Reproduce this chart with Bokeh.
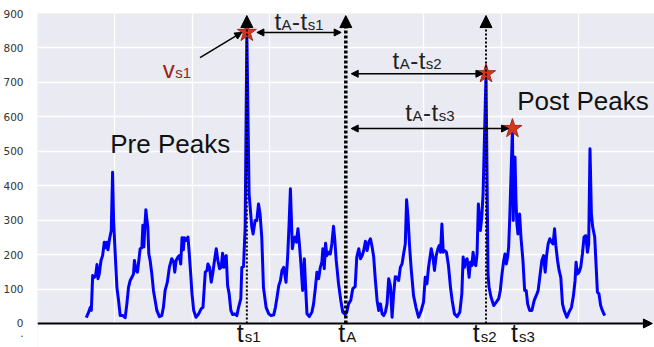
from bokeh.plotting import figure
from bokeh.models import Range1d, SingleIntervalTicker, FixedTicker, Arrow, NormalHead, Label, BoxAnnotation
from bokeh.embed import file_html
from bokeh.resources import INLINE

# ---------------- data ----------------
time = [0.632, 0.662, 0.684, 0.697, 0.714, 0.735, 0.752, 0.770, 0.783, 0.800, 0.822, 0.843, 0.865, 0.881, 0.899,
        0.912, 0.933, 0.955, 0.972, 0.985, 1.006, 1.028, 1.049, 1.071, 1.106, 1.135, 1.157, 1.178, 1.200, 1.222,
        1.243, 1.255, 1.274, 1.294, 1.312, 1.329, 1.351, 1.364, 1.377, 1.390, 1.403, 1.415, 1.428, 1.441, 1.458,
        1.480, 1.501, 1.523, 1.545, 1.578, 1.609, 1.630, 1.652, 1.681, 1.707, 1.738, 1.764, 1.777, 1.794, 1.819,
        1.836, 1.854, 1.871, 1.888, 1.901, 1.923, 1.948, 1.965, 1.983, 2.000, 2.022, 2.052, 2.086, 2.120, 2.142,
        2.159, 2.172, 2.194, 2.206, 2.228, 2.249, 2.271, 2.288, 2.314, 2.335, 2.357, 2.378, 2.396, 2.413, 2.430,
        2.443, 2.461, 2.481, 2.503, 2.525, 2.551, 2.581, 2.603, 2.632, 2.645, 2.667, 2.688, 2.710, 2.739, 2.774,
        2.791, 2.817, 2.839, 2.861, 2.881, 2.903, 2.925, 2.959, 2.994, 3.023, 3.058, 3.080, 3.101, 3.123, 3.145,
        3.165, 3.187, 3.200, 3.217, 3.239, 3.255, 3.274, 3.286, 3.299, 3.316, 3.333, 3.351, 3.372, 3.390, 3.410,
        3.432, 3.454, 3.471, 3.488, 3.519, 3.552, 3.574, 3.596, 3.617, 3.639, 3.661, 3.681, 3.694, 3.712, 3.729,
        3.746, 3.768, 3.790, 3.810, 3.832, 3.849, 3.867, 3.897, 3.926, 3.952, 3.983, 4.004, 4.026, 4.055, 4.081,
        4.112, 4.133, 4.159, 4.181, 4.203, 4.223, 4.245, 4.267, 4.288, 4.310, 4.332, 4.352, 4.374, 4.396, 4.417,
        4.439, 4.461, 4.481, 4.503, 4.525, 4.546, 4.568, 4.590, 4.610, 4.632, 4.654, 4.675, 4.697, 4.719, 4.739,
        4.761, 4.778, 4.796, 4.817, 4.839, 4.868, 4.899, 4.933, 4.968, 4.997, 5.019, 5.041, 5.062, 5.097, 5.119,
        5.139, 5.161, 5.183, 5.200, 5.217, 5.235, 5.252, 5.268, 5.294, 5.320, 5.346, 5.368, 5.397, 5.432, 5.467,
        5.493, 5.510, 5.526, 5.545, 5.561, 5.574, 5.587, 5.604, 5.622, 5.639, 5.655, 5.674, 5.690, 5.707, 5.720,
        5.733, 5.751, 5.768, 5.806, 5.832, 5.845, 5.871, 5.906, 5.939, 5.970, 5.991, 6.013, 6.035, 6.052, 6.068,
        6.086, 6.099, 6.112, 6.148, 6.159, 6.168, 6.181, 6.194, 6.206, 6.219, 6.241, 6.258, 6.284, 6.306, 6.326,
        6.345, 6.370, 6.400, 6.430, 6.465, 6.481, 6.507, 6.529, 6.551, 6.572, 6.590, 6.610, 6.632, 6.654, 6.675,
        6.693, 6.710, 6.732, 6.752, 6.774, 6.796, 6.817, 6.852, 6.881, 6.912, 6.938, 6.959, 6.972, 6.990, 7.010,
        7.032, 7.054, 7.075, 7.097, 7.119, 7.135, 7.152, 7.170, 7.187, 7.213, 7.230, 7.248, 7.268, 7.290, 7.312,
        7.342]
load = [17, 33, 47, 38, 139, 134, 139, 171, 130, 144, 183, 197, 236, 220, 236,
        214, 246, 270, 439, 299, 202, 105, 67, 23, 23, 17, 57, 105, 125, 134,
        144, 183, 154, 149, 183, 217, 220, 285, 222, 285, 330, 304, 280, 202, 183,
        144, 96, 67, 38, 20, 23, 47, 96, 120, 163, 188, 178, 149, 183, 193,
        197, 173, 249, 214, 249, 241, 251, 202, 144, 86, 38, 18, 28, 43, 47,
        105, 149, 154, 173, 163, 120, 149, 178, 217, 183, 159, 163, 204, 163, 193,
        197, 110, 86, 38, 26, 28, 23, 47, 72, 163, 165, 280, 845, 376, 280,
        260, 299, 299, 347, 318, 251, 105, 47, 28, 23, 25, 47, 76, 110, 125,
        154, 163, 144, 120, 197, 280, 391, 309, 217, 241, 251, 236, 275, 231, 173,
        96, 188, 105, 28, 20, 33, 57, 101, 149, 130, 163, 178, 217, 159, 233,
        197, 207, 202, 231, 282, 241, 183, 115, 67, 33, 26, 33, 57, 67, 101,
        107, 193, 217, 188, 197, 212, 239, 212, 236, 246, 222, 193, 125, 67, 38,
        57, 28, 23, 33, 57, 130, 110, 18, 86, 136, 134, 125, 163, 173, 202,
        231, 359, 309, 222, 154, 81, 47, 18, 38, 62, 134, 115, 163, 217, 193,
        154, 197, 217, 226, 207, 289, 207, 212, 207, 168, 105, 67, 28, 20, 33,
        86, 193, 163, 183, 188, 163, 134, 178, 168, 207, 173, 168, 202, 347, 309,
        270, 309, 376, 725, 144, 105, 76, 52, 62, 72, 96, 144, 183, 202, 173,
        193, 222, 299, 566, 299, 473, 483, 357, 289, 260, 318, 251, 183, 96, 96,
        57, 38, 38, 67, 86, 96, 144, 183, 197, 149, 197, 231, 246, 236, 231,
        275, 226, 183, 154, 134, 57, 38, 18, 33, 47, 81, 125, 178, 144, 149,
        163, 202, 251, 255, 207, 231, 507, 318, 280, 251, 173, 91, 86, 52, 38,
        23]

peak_times = [2.710, 5.806, 6.148]      # t_s1, t_s2, t_s3
peak_values = [845, 725, 566]           # v_s1, v_s2, v_s3
t_A = 3.991
y_tick_values = [-28, 0, 100, 200, 300, 400, 500, 600, 700, 800, 900]
y_tick_labels = [".", "0", "100", "200", "300", "400", "500", "600", "700", "800", "900"]

t_s1, t_s2, t_s3 = peak_times
v_s1, v_s2, v_s3 = peak_values

# ---------------- figure ----------------
p = figure(width=654, height=347, x_range=Range1d(0, 7.987), y_range=Range1d(-69.7, 900),
           output_backend="svg", toolbar_location=None,
           min_border_left=35, min_border_right=0, min_border_top=13, min_border_bottom=0)
p.background_fill_color = "#EAEAF2"
p.border_fill_color = "white"
p.outline_line_color = None

p.xaxis.visible = False
p.xgrid.ticker = SingleIntervalTicker(interval=1)
p.yaxis.ticker = FixedTicker(ticks=y_tick_values)
p.yaxis.major_label_overrides = {v: s for v, s in zip(y_tick_values, y_tick_labels)}
p.yaxis.axis_line_color = None
p.yaxis.major_tick_line_color = None
p.yaxis.minor_tick_line_color = None
p.yaxis.major_label_text_font = "DejaVu Sans"
p.yaxis.major_label_text_font_size = "10.5px"
p.yaxis.major_label_text_color = "#333333"
p.yaxis.major_label_standoff = 8
p.grid.grid_line_color = "white"
p.grid.grid_line_width = 1.3

# series
p.line(time, load, line_color="#0000FF", line_width=3, line_join="round")

# white area below the time axis
p.add_layout(BoxAnnotation(top=0, fill_color="white", fill_alpha=1, line_color=None))

# vertical dotted arrows
for t, lw, dash in [(t_s1, 2, "2 2"), (t_A, 3.5, "3 2"), (t_s2, 2, "2 2")]:
    p.add_layout(Arrow(x_start=t, y_start=0, x_end=t, y_end=894,
                       line_color="black", line_width=lw, line_dash=dash,
                       end=NormalHead(size=12, fill_color="black", line_color="black", line_width=1)))

# x axis line with arrow
p.add_layout(Arrow(x_start=0, y_start=0, x_end=7.96, y_end=0, line_color="black", line_width=2,
                   end=NormalHead(size=9, fill_color="black", line_color="black", line_width=1)))

# horizontal double arrows
def dbl(x0, x1, y):
    p.add_layout(Arrow(x_start=x0, y_start=y, x_end=x1, y_end=y, line_color="black", line_width=1.5,
                       start=NormalHead(size=7, fill_color="black", line_color="black", line_width=1),
                       end=NormalHead(size=7, fill_color="black", line_color="black", line_width=1)))

dbl(t_s1 + 0.13, t_A - 0.06, v_s1)
dbl(t_A + 0.07, t_s2 - 0.04, v_s2)
dbl(t_A + 0.07, t_s3 - 0.05, v_s3)

# diagonal arrow pointing at v_s1
p.add_layout(Arrow(x_start=t_s1 - 0.606, y_start=v_s1 - 73, x_end=t_s1 - 0.065, y_end=v_s1,
                   line_color="black", line_width=1.5,
                   end=NormalHead(size=7, fill_color="black", line_color="black", line_width=1)))

# stars
p.scatter(peak_times, peak_values, marker="star", size=20, fill_color="#d8361c", line_color="#a5281a", line_width=1)

# composite labels (big letter + small text sharing one baseline)
EM = {"t": 0.278, "A": 0.667, "-": 0.333, "s": 0.5, "1": 0.556, "2": 0.556, "3": 0.556, "v": 0.5}
FONT = "Liberation Sans"
K = 0.3465  # text is placed around its middle: lift by this share of the size to sit on the baseline

def comp(x, y, pieces, off, yoff, color="#111111", gap=0.5):
    for txt, size in pieces:
        p.add_layout(Label(x=x, y=y, x_offset=off, y_offset=yoff + K * size, text=txt, text_font=FONT,
                           text_font_size=f"{size}px", text_color=color, text_baseline="alphabetic"))
        off += sum(EM.get(c, 0.55) for c in txt) * size + gap

def width(pieces, gap=0.5):
    return sum(sum(EM.get(c, 0.55) for c in txt) * size for txt, size in pieces) + gap * (len(pieces) - 1)

for ts, v, sub, x0, x1, yo in [(t_s1, v_s1, "s1", t_s1 + 0.13, t_A - 0.06, 3),
                               (t_s2, v_s2, "s2", t_A + 0.07, t_s2 - 0.04, 5),
                               (t_s3, v_s3, "s3", t_A + 0.07, t_s3 - 0.05, 8)]:
    pcs = [("t", 24), ("A", 15), ("-", 24), ("t", 24), (sub, 15)]
    comp((x0 + x1) / 2, v, pcs, -width(pcs) / 2, yo, color="#222222")

comp(t_s1, v_s1, [("v", 24), ("s1", 15)], -84, -45, color="#9B2218")

# bottom time labels
for t, sub, off in [(t_s1, "s1", -10), (t_A, "A", -7.6), (t_s2, "s2", -13.3), (t_s3, "s3", -1.5)]:
    comp(t, -53.7, [("t", 25), (sub, 15)], off, 0, color="#111111", gap=1.0)

p.add_layout(Label(x=0.942, y=496, y_offset=K * 26, text="Pre Peaks", text_font=FONT, text_font_size="26px",
                   text_color="#111111", text_baseline="alphabetic"))
p.add_layout(Label(x=6.21, y=621, y_offset=K * 26, text="Post Peaks", text_font=FONT, text_font_size="26px",
                   text_color="#111111", text_baseline="alphabetic"))

open("out.html", "w").write(file_html(p, INLINE))
